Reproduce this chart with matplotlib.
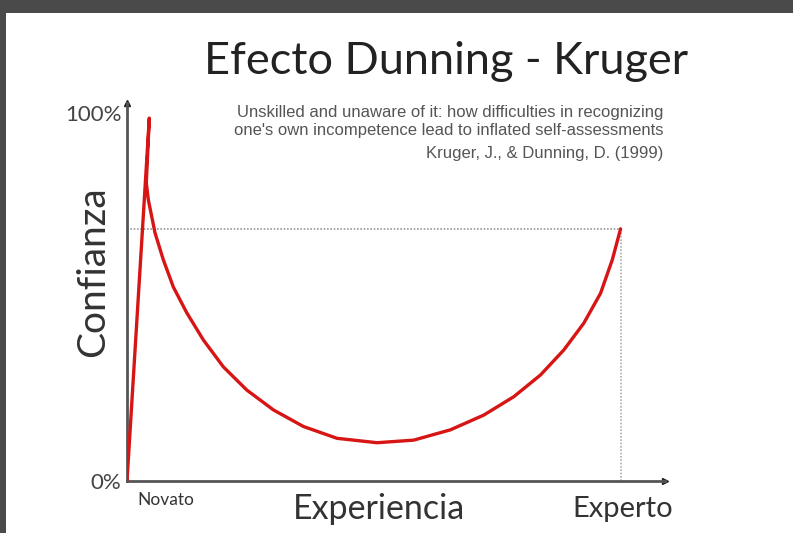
import numpy as np
import matplotlib.pyplot as plt
from matplotlib.patches import Rectangle

# curve: experience (0-100) vs confidence (%)
experiencia = [0, 4.52, 3.91, 4.32, 5.68, 7.36, 9.39, 12.11, 15.48, 19.53, 24.28,
               29.68, 35.76, 42.54, 50.65, 58.07, 65.52, 72.27, 78.36, 83.77, 88.50,
               92.56, 95.94, 98.32, 100]
confianza = [0, 98.6, 81.0, 76.4, 67.4, 60.1, 52.7, 45.7, 38.3, 31.0, 24.7,
             19.3, 14.8, 11.6, 10.4, 11.1, 13.9, 17.9, 22.9, 28.8, 35.6,
             42.9, 51.0, 60.1, 68.5]
y_ticks = [0, 100]
y_labels = ["0%", "100%"]
x_extremos = ["Novato", "Experto"]
ref_nivel = 68.5
cita = ["Unskilled and unaware of it: how difficulties in recognizing",
        "one's own incompetence lead to inflated self-assessments",
        "Kruger, J., & Dunning, D. (1999)"]

W, H = 793, 533
fig = plt.figure(figsize=(W / 100, H / 100), dpi=100, facecolor="#4a4a4a")
fig.patches.append(Rectangle((6 / W, 0), 1, 1 - 13 / H, transform=fig.transFigure,
                             facecolor="white", edgecolor="none", zorder=-5))

ax = fig.add_axes([127 / W, 52 / H, 538 / W, 378 / H])
ax.set_facecolor("none")
ax.set_xlim(0, 109)
ax.set_ylim(0, 102.7)

for s in ["top", "right"]:
    ax.spines[s].set_visible(False)
for s in ["left", "bottom"]:
    ax.spines[s].set_color("#555555")
    ax.spines[s].set_linewidth(2)
ax.plot(1, 0, ">", color="#222222", ms=5, transform=ax.transAxes, clip_on=False)
ax.plot(0, 1, "^", color="#222222", ms=4, transform=ax.transAxes, clip_on=False)

# dotted reference lines
ax.plot([0, 100], [ref_nivel, ref_nivel], color="#999999", lw=1.2, ls=(0, (1, 1)))
ax.plot([100, 100], [0, ref_nivel], color="#aaaaaa", lw=1.2, ls=(0, (1, 1)))

ax.plot(experiencia, confianza, color="#d71515", lw=2.4, solid_joinstyle="round",
        solid_capstyle="round", zorder=3)

ax.set_yticks(y_ticks)
ax.set_yticklabels(y_labels, fontsize=16, color="#444444", family="Lato")
ax.tick_params(axis="y", length=0, pad=4)
ax.set_xticks([])

lbl = dict(family="Lato", color="#333333", ha="center", va="center")
ax.text(7.9, -5.2, x_extremos[0], fontsize=12.5, **lbl)
ax.text(100.5, -7.6, x_extremos[1], fontsize=21, **lbl)
ax.text(51, -7.5, "Experiencia", fontsize=24.5, **lbl)
ax.text(-6.9, 57, "Confianza", rotation=90, fontsize=28, **lbl)

fig.text(446 / W, 1 - 61 / H, "Efecto Dunning - Kruger", ha="center", va="center",
         fontsize=32.5, color="#222222", family="Lato")
for linea, yy in zip(cita, [112, 131, 154]):
    fig.text(663 / W, 1 - yy / H, linea, ha="right", va="center", fontsize=12,
             color="#555555", family="Liberation Sans")

fig.savefig("out.png", dpi=100, facecolor=fig.get_facecolor())
